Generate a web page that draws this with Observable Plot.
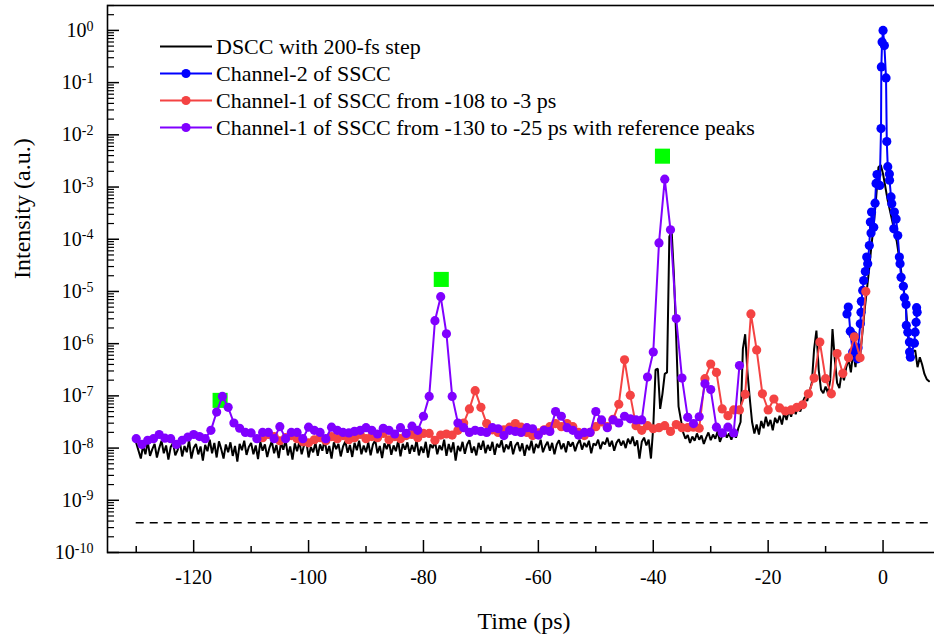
<!DOCTYPE html>
<html><head><meta charset="utf-8">
<script src="https://cdn.jsdelivr.net/npm/d3@7"></script>
<script src="https://cdn.jsdelivr.net/npm/@observablehq/plot@0.6"></script>
<style>
html,body{margin:0;padding:0;background:#fff;overflow:hidden;}
#wrap{position:relative;width:934px;height:634px;overflow:hidden;background:#fff;}
#chart svg{max-width:none !important;}
#chart svg text{font-family:"Liberation Serif","Times New Roman",serif !important;}
#legend{position:absolute;left:160px;top:33px;font-family:"Liberation Serif","Times New Roman",serif;font-size:22px;color:#000;}
.row{display:flex;align-items:center;height:27px;white-space:nowrap;}
.row svg{margin-right:4px;flex:none;}
</style></head><body>
<div id="wrap"><div id="chart"></div><div id="legend"></div></div>
<script>
// ---------------- data (log10 of intensity) ----------------
const seriesNames = ["DSCC with 200-fs step", "Channel-2 of SSCC", "Channel-1 of SSCC from -108 to -3 ps", "Channel-1 of SSCC from -130 to -25 ps with reference peaks"];
const seriesColors = ["#000000", "#0000ff", "#f44343", "#8000ff"];

// DSCC, 200-fs scan shown every 0.4 ps from -130 ps
const blackStart = -130, blackStep = 0.4;
const blackLog = [
 -7.90,-8.05,-8.20,-7.95,-8.12,-7.88,-8.15,-8.02,-7.92,-8.18,
 -8.00,-7.86,-8.10,-7.95,-8.22,-7.98,-7.90,-8.14,-8.04,-7.88,
 -8.16,-7.96,-8.08,-7.85,-8.20,-8.00,-7.92,-8.12,-7.97,-8.24,
 -7.94,-8.06,-7.84,-8.10,-7.90,-8.18,-7.87,-8.02,-8.20,-7.93,
 -8.08,-7.89,-8.15,-7.96,-8.26,-7.92,-8.04,-7.86,-8.13,-7.98,
 -7.90,-8.12,-7.95,-8.21,-7.88,-8.05,-7.93,-8.17,-7.99,-7.87,
 -8.10,-7.94,-8.19,-7.90,-8.03,-7.85,-8.14,-7.97,-8.22,-7.91,
 -8.06,-7.88,-8.12,-7.95,-7.86,-8.18,-7.98,-8.08,-7.90,-8.15,
 -7.93,-8.05,-7.84,-8.11,-7.96,-8.20,-7.89,-8.02,-7.92,-8.16,
 -7.97,-7.87,-8.09,-7.94,-8.17,-7.90,-8.04,-7.86,-8.12,-7.95,
 -8.08,-7.89,-8.14,-7.93,-7.85,-8.10,-7.96,-8.19,-7.91,-8.02,
 -7.88,-8.13,-7.95,-8.06,-7.86,-8.16,-7.92,-8.03,-7.89,-8.11,
 -7.94,-8.07,-7.85,-8.14,-7.97,-8.09,-7.88,-8.18,-7.93,-8.00,
 -7.87,-8.12,-7.95,-8.04,-7.84,-8.15,-7.92,-8.08,-7.89,-8.24,
 -7.96,-8.06,-7.88,-8.11,-7.93,-7.85,-8.09,-7.97,-8.14,-7.90,
 -8.03,-7.86,-8.10,-7.94,-8.05,-7.88,-8.13,-7.92,-7.99,-7.85,
 -8.08,-7.93,-8.02,-7.87,-8.12,-7.95,-7.89,-8.06,-7.91,-8.15,
 -7.94,-8.04,-7.86,-8.10,-7.92,-8.00,-7.84,-8.08,-7.96,-7.88,
 -8.05,-7.90,-8.12,-7.93,-7.85,-8.02,-7.91,-8.08,-7.87,-7.97,
 -7.89,-8.06,-7.92,-7.84,-8.03,-7.90,-7.98,-7.86,-8.10,-7.91,
 -7.95,-7.84,-8.02,-7.88,-7.93,-7.80,-7.97,-7.86,-8.05,-7.90,
 -7.83,-7.95,-7.86,-8.00,-7.82,-7.92,-7.78,-7.96,-7.85,-8.20,
 -7.88,-7.80,-7.95,-7.84,-8.20,-7.60,-6.50,-6.48,-7.25,-6.96,
 -6.58,-6.55,-3.95,-3.84,-4.70,-5.90,-7.20,-7.45,-7.70,-7.82,
 -7.75,-7.90,-7.78,-7.86,-7.72,-7.84,-7.76,-7.92,-7.80,-7.70,
 -7.85,-7.74,-7.82,-7.68,-7.88,-7.76,-7.66,-7.80,-7.72,-7.84,
 -7.70,-7.80,-7.62,-7.50,-6.10,-5.82,-6.55,-7.05,-7.50,-7.72,
 -7.55,-7.74,-7.48,-7.62,-7.40,-7.58,-7.46,-7.66,-7.42,-7.52,
 -7.38,-7.55,-7.32,-7.46,-7.28,-7.40,-7.22,-7.35,-7.18,-7.30,
 -7.12,-7.02,-7.10,-6.92,-6.75,-6.10,-5.75,-6.50,-6.88,-6.95,
 -6.82,-6.95,-6.70,-5.72,-6.30,-6.75,-6.85,-6.55,-6.70,-6.45,
 -6.30,-6.55,-6.15,-6.45,-6.05,-6.25,-5.80,-5.35,-4.95,-4.55,
 -4.10,-3.70,-3.20,-2.62,-2.58,-2.75,-3.00,-3.25,-3.45,-3.65,
 -3.85,-4.05,-4.35,-4.65,-4.95,-5.35,-5.90,-6.30,-6.15,-6.13,
 -6.45,-6.26,-6.40,-6.58,-6.68,-6.72
];

// Channel-2 of SSCC (time in ps, log10 intensity)
const blueT = [-6.28,-6.05,-5.70,-5.28,-5.18,-4.45,-4.35,-3.96,-3.84,-3.78,-3.54,-3.37,-3.09,-2.84,-2.67,-2.39,-2.21,-2.09,-2.00,-1.62,-1.39,-1.22,-1.05,-0.58,-0.35,-0.30,-0.17,0.00,0.23,0.52,0.65,0.82,1.10,1.13,1.39,1.52,1.87,1.97,2.27,2.56,2.84,2.96,3.14,3.54,3.71,4.01,4.05,4.31,4.59,4.62,4.76,5.46,5.58,5.75,5.93,5.84];
const blueLog = [-5.43,-5.30,-5.76,-6.16,-5.84,-6.29,-6.08,-5.62,-5.40,-5.19,-4.98,-4.79,-4.62,-4.34,-4.47,-4.12,-3.67,-3.88,-3.48,-3.77,-3.31,-2.93,-2.76,-2.97,-1.88,-0.70,-0.22,0.00,-0.29,-0.91,-2.13,-2.61,-2.75,-2.87,-3.19,-3.32,-3.80,-3.48,-3.61,-3.93,-4.34,-4.47,-4.73,-4.90,-5.12,-5.25,-5.65,-5.78,-5.97,-6.16,-6.26,-5.99,-5.78,-5.59,-5.40,-5.31];

// Channel-1 of SSCC, 1-ps steps from -108 to -3 ps
const redStart = -108;
const redLog = [
 -7.80,-7.74,-7.78,-7.86,-7.80,-7.76,-7.82,-7.88,-7.90,-7.84,
 -7.80,-7.86,-7.78,-7.82,-7.76,-7.84,-7.80,-7.74,-7.82,-7.78,
 -7.80,-7.72,-7.84,-7.78,-7.82,-7.76,-7.74,-7.80,-7.72,-7.72,
 -7.85,-7.75,-7.73,-7.75,-7.66,-7.52,-7.25,-6.90,-7.22,-7.53,
 -7.65,-7.70,-7.65,-7.60,-7.53,-7.60,-7.70,-7.76,-7.71,-7.65,
 -7.59,-7.53,-7.59,-7.53,-7.59,-7.70,-7.76,-7.70,-7.59,-7.50,
 -7.59,-7.45,-7.16,-6.31,-6.99,-7.57,-7.66,-7.57,-7.63,-7.61,
 -7.57,-7.68,-7.55,-7.61,-7.61,-7.60,-7.62,-6.67,-6.39,-6.55,
 -7.25,-7.38,-7.27,-7.27,-6.97,-5.43,-6.12,-6.96,-7.27,-7.06,
 -7.23,-7.29,-7.27,-7.22,-7.17,-6.96,-6.66,-5.97,-6.67,-6.96,
 -6.19,-6.57,-6.27,-5.87,-6.27,-5.00
];

// Channel-1 of SSCC, 1-ps steps from -130 to -25 ps
const purpleStart = -130;
const purpleLog = [
 -7.82,-7.93,-7.85,-7.82,-7.74,-7.81,-7.82,-7.93,-7.85,-7.79,
 -7.74,-7.78,-7.82,-7.66,-7.31,-7.01,-7.22,-7.52,-7.62,-7.70,
 -7.71,-7.82,-7.70,-7.70,-7.82,-7.59,-7.82,-7.70,-7.70,-7.82,
 -7.60,-7.66,-7.70,-7.82,-7.60,-7.66,-7.70,-7.71,-7.68,-7.66,
 -7.61,-7.66,-7.73,-7.62,-7.66,-7.73,-7.61,-7.72,-7.58,-7.66,
 -7.39,-7.01,-5.56,-5.10,-5.81,-7.01,-7.52,-7.61,-7.70,-7.66,
 -7.68,-7.70,-7.61,-7.63,-7.76,-7.66,-7.68,-7.70,-7.61,-7.63,
 -7.75,-7.66,-7.68,-7.30,-7.39,-7.61,-7.66,-7.75,-7.70,-7.70,
 -7.30,-7.46,-7.61,-7.46,-7.52,-7.39,-7.44,-7.46,-7.46,-6.64,
 -6.16,-4.07,-2.85,-3.82,-5.52,-6.66,-7.41,-7.53,-7.40,-6.77,
 -6.88,-7.60,-7.71,-7.60,-7.71,-6.42
];

// reference peaks (green squares)
const refT = [-115.4, -76.9, -38.4];
const refV = [8.2e-8, 1.7e-5, 3.9e-3];

// noise floor (dashed)
const floorV = 3.7e-10;
const floorT = [-130, 8.4];

// axes
const xDomain = [-135, 10];
const yDomain = [1e-10, 3];
const xMajor = [-120, -100, -80, -60, -40, -20, 0];
const xMinor = [-130, -110, -90, -70, -50, -30, -10];
const yExps = [0, -1, -2, -3, -4, -5, -6, -7, -8, -9, -10];
const xTitle = "Time (ps)";
const yTitle = "Intensity (a.u.)";

// ---------------- build tables ----------------
const black = blackLog.map((v, i) => ({t: blackStart + i * blackStep, v: 10 ** v}));
const blue = blueT.map((t, i) => ({t, v: 10 ** blueLog[i]}));
const red = redLog.map((v, i) => ({t: redStart + i, v: 10 ** v}));
const purple = purpleLog.map((v, i) => ({t: purpleStart + i, v: 10 ** v}));
const refs = refT.map((t, i) => ({t, v: refV[i]}));
const yMajor = yExps.map(e => 10 ** e);
const yMinor = [];
for (const e of yExps) for (let k = 2; k <= 9; k++) { const v = k * 10 ** e; if (v <= yDomain[1]) yMinor.push(v); }

const FONT = '"Liberation Serif","Times New Roman",serif';
const lw = 2, rDot = 4.6;

const svg = Plot.plot({
  width: 940, height: 634,
  marginLeft: 107, marginRight: 0, marginTop: 5, marginBottom: 82,
  x: {domain: xDomain},
  y: {type: "log", domain: yDomain},
  style: {fontFamily: FONT, color: "#000", background: "#fff", maxWidth: "none"},
  marks: [
    // inward ticks
    Plot.axisX({ticks: xMajor, tickSize: 12, dy: -12, tickFormat: () => "", label: null, strokeWidth: 1.5}),
    Plot.axisX({ticks: xMinor, tickSize: 6, dy: -6, tickFormat: () => "", label: null, strokeWidth: 1.5}),
    Plot.axisY({ticks: yMajor, tickSize: 12, dx: 12, tickFormat: () => "", label: null, strokeWidth: 1.5}),
    Plot.axisY({ticks: yMinor, tickSize: 7, dx: 7, tickFormat: () => "", label: null, strokeWidth: 1.2}),
    // tick labels
    Plot.axisX({ticks: xMajor, tickSize: 0, tickPadding: 17, tickFormat: d => String(d), label: null, fontSize: 20, fontFamily: FONT}),
    Plot.axisY({ticks: yMajor, tickSize: 0, tickPadding: 14, tickFormat: d => "10|" + Math.round(Math.log10(d)), label: null, fontSize: 20, fontFamily: FONT}),
    // titles
    Plot.text([xTitle], {text: d => d, frameAnchor: "bottom", dy: 76, fontSize: 24, fontFamily: FONT}),
    Plot.text([yTitle], {text: d => d, frameAnchor: "left", dx: -85, rotate: -90, fontSize: 24, fontFamily: FONT}),
    Plot.frame({stroke: "#000", strokeWidth: 1.6}),
    // noise floor
    Plot.ruleY([floorV], {x1: floorT[0], x2: floorT[1], stroke: "#000", strokeWidth: 1.5, strokeDasharray: "8,6"}),
    // series
    Plot.line(black, {x: "t", y: "v", stroke: seriesColors[0], strokeWidth: 2, strokeLinejoin: "miter"}),
    Plot.line(blue, {x: "t", y: "v", stroke: seriesColors[1], strokeWidth: lw}),
    Plot.dot(blue, {x: "t", y: "v", fill: seriesColors[1], r: rDot}),
    Plot.dot(refs, {x: "t", y: "v", symbol: "square", r: 8.5, fill: "#00ff00"}),
    Plot.line(red, {x: "t", y: "v", stroke: seriesColors[2], strokeWidth: lw}),
    Plot.dot(red, {x: "t", y: "v", fill: seriesColors[2], r: rDot}),
    Plot.line(purple, {x: "t", y: "v", stroke: seriesColors[3], strokeWidth: lw}),
    Plot.dot(purple, {x: "t", y: "v", fill: seriesColors[3], r: rDot})
  ]
});
svg.style.maxWidth = "none";
svg.setAttribute("width", 940);
svg.setAttribute("height", 634);

// superscript exponents on the y tick labels
svg.querySelectorAll('[aria-label="y-axis tick label"] text').forEach(t => {
  const s = t.textContent;
  if (!s.includes("|")) return;
  const [base, exp] = s.split("|");
  t.textContent = base;
  const ts = document.createElementNS("http://www.w3.org/2000/svg", "tspan");
  ts.setAttribute("dy", "-0.45em");
  ts.setAttribute("font-size", "14");
  ts.textContent = exp;
  t.appendChild(ts);
});
document.getElementById("chart").appendChild(svg);

// legend
const leg = document.getElementById("legend");
seriesNames.forEach((name, i) => {
  const row = document.createElement("div");
  row.className = "row";
  const dot = i > 0 ? `<circle cx="26" cy="13.5" r="4.6" fill="${seriesColors[i]}"/>` : "";
  row.innerHTML = `<svg width="52" height="27"><line x1="0" x2="52" y1="13.5" y2="13.5" stroke="${seriesColors[i]}" stroke-width="2"/>${dot}</svg><span>${name}</span>`;
  leg.appendChild(row);
});
</script>
</body></html>
